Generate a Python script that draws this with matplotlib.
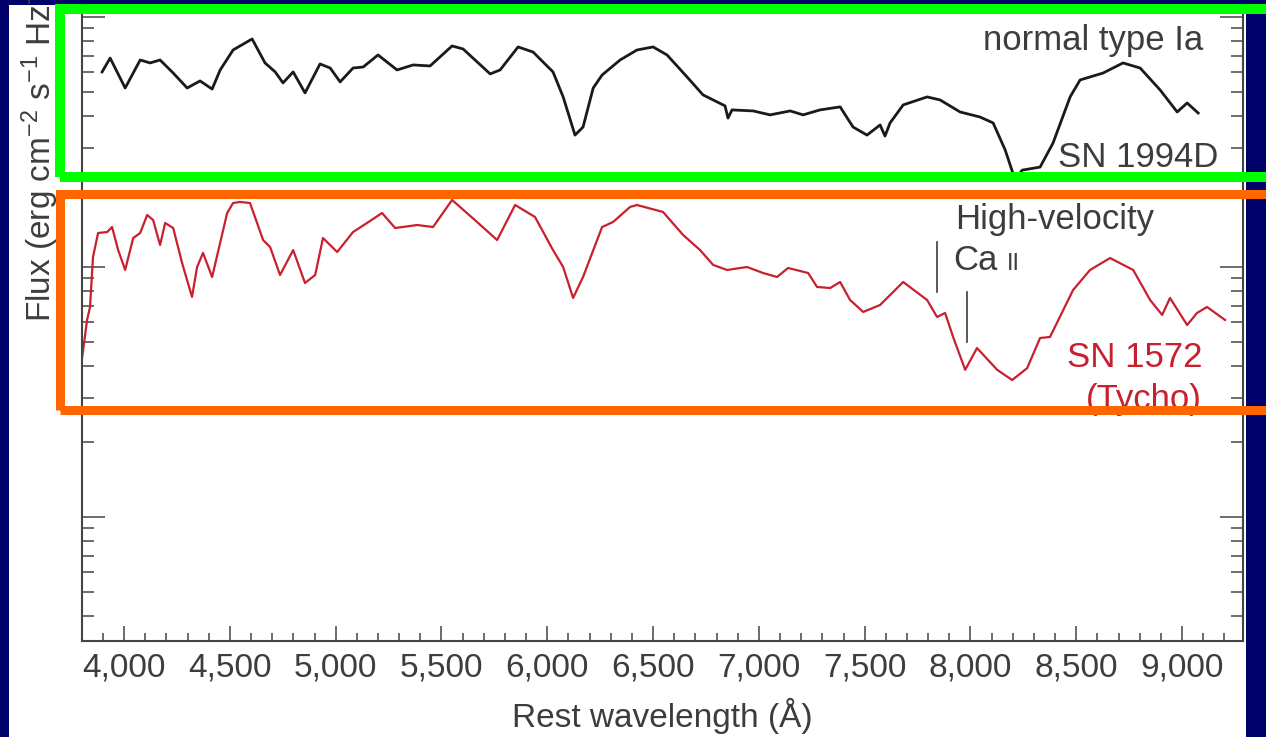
import matplotlib
matplotlib.use("Agg")
import matplotlib.pyplot as plt
from matplotlib.patches import Rectangle
from matplotlib.ticker import MultipleLocator, FuncFormatter, LogLocator, NullFormatter

plt.rcParams['font.family'] = ['Liberation Sans', 'DejaVu Sans']
plt.rcParams['mathtext.fontset'] = 'custom'
plt.rcParams['mathtext.rm'] = 'Liberation Sans'
plt.rcParams['mathtext.it'] = 'Liberation Sans:italic'
plt.rcParams['mathtext.bf'] = 'Liberation Sans:bold'
plt.rcParams['mathtext.default'] = 'rm'

# ---------------- data ----------------
# SN 1994D (normal type Ia), rest wavelength (Angstrom) and flux (arbitrary, log axis)
wave_1994d = [3896, 3934, 4005, 4076, 4123, 4170, 4232, 4298, 4359, 4416, 4454, 4515,
              4605, 4666, 4714, 4751, 4799, 4855, 4926, 4974, 5021, 5082, 5130, 5200,
              5290, 5366, 5446, 5550, 5602, 5730, 5777, 5862, 5933, 6027, 6075, 6131,
              6169, 6217, 6259, 6344, 6424, 6500, 6566, 6661, 6736, 6840, 6854, 6873,
              6973, 7053, 7148, 7209, 7289, 7384, 7445, 7511, 7573, 7596, 7620, 7682,
              7795, 7856, 7951, 8045, 8107, 8164, 8211, 8244, 8329, 8390, 8471, 8518,
              8627, 8721, 8802, 8896, 8977, 9024, 9076]
flux_1994d = [6.03, 6.85, 5.20, 6.73, 6.55, 6.73, 5.97, 5.20, 5.55, 5.15, 6.14, 7.38,
              8.17, 6.55, 6.03, 5.45, 6.03, 4.97, 6.49, 6.25, 5.50, 6.25, 6.31, 7.05,
              6.14, 6.43, 6.37, 7.66, 7.45, 5.92, 6.14, 7.59, 7.24, 6.03, 4.79, 3.37,
              3.63, 5.20, 5.86, 6.73, 7.38, 7.59, 7.05, 5.75, 4.88, 4.41, 3.94, 4.25,
              4.21, 4.06, 4.21, 4.06, 4.25, 4.37, 3.63, 3.37, 3.70, 3.34, 3.77, 4.45,
              4.79, 4.66, 4.17, 3.98, 3.77, 2.94, 2.23, 2.44, 2.51, 3.13, 4.79, 5.60,
              5.97, 6.55, 6.25, 5.11, 4.17, 4.53, 4.13]

# SN 1572 (Tycho)
wave_tycho = [3802, 3825, 3839, 3853, 3877, 3920, 3943, 3972, 4005, 4043, 4076, 4109,
              4137, 4170, 4194, 4232, 4274, 4321, 4345, 4373, 4416, 4487, 4515, 4548,
              4595, 4657, 4690, 4737, 4799, 4855, 4903, 4940, 5007, 5082, 5148, 5219,
              5281, 5385, 5460, 5550, 5668, 5763, 5848, 5942, 6027, 6075, 6122, 6169,
              6259, 6311, 6391, 6424, 6547, 6642, 6722, 6784, 6850, 6944, 7020, 7086,
              7138, 7233, 7275, 7337, 7384, 7431, 7493, 7573, 7682, 7795, 7842, 7880,
              7918, 7975, 8031, 8126, 8197, 8268, 8329, 8376, 8485, 8565, 8660, 8769,
              8849, 8906, 8943, 9024, 9071, 9118, 9203]
flux_tycho = [0.436, 0.614, 0.692, 1.096, 1.368, 1.380, 1.445, 1.169, 0.973, 1.306, 1.368, 1.614,
              1.542, 1.225, 1.500, 1.432, 1.038, 0.759, 1.000, 1.138, 0.912, 1.644, 1.803, 1.820,
              1.803, 1.282, 1.202, 0.929, 1.169, 0.863, 0.929, 1.306, 1.148, 1.380, 1.500, 1.644,
              1.432, 1.472, 1.445, 1.854, 1.514, 1.282, 1.770, 1.585, 1.169, 1.000, 0.752, 0.912,
              1.445, 1.514, 1.738, 1.770, 1.660, 1.343, 1.169, 1.019, 0.973, 1.000, 0.946, 0.912,
              0.991, 0.946, 0.832, 0.824, 0.871, 0.738, 0.661, 0.705, 0.871, 0.738, 0.631, 0.655,
              0.525, 0.388, 0.474, 0.388, 0.353, 0.394, 0.520, 0.525, 0.809, 0.973, 1.086, 0.973,
              0.738, 0.643, 0.752, 0.586, 0.655, 0.692, 0.614]

# High-velocity Ca II marker segments: wavelength, flux bottom, flux top
ca_marker_wave = [7842, 7984]
ca_marker_lo = [0.794, 0.501]
ca_marker_hi = [1.259, 0.794]

x_ticks = [4000, 4500, 5000, 5500, 6000, 6500, 7000, 7500, 8000, 8500, 9000]
x_limits = (3801, 9288)
y_limits = (10 ** -1.496, 10 ** 1.048)

# ---------------- figure ----------------
W, H = 1266, 737
NAVY = '#00006a'
GREY = '#3d3d3d'
RED = '#c8202e'

fig = plt.figure(figsize=(W / 100, H / 100), dpi=100, facecolor=NAVY)

# white page area
fig.add_artist(Rectangle((9 / W, 0), (1246 - 9) / W, (H - 5) / H,
                         transform=fig.transFigure, facecolor='white',
                         edgecolor='none', zorder=-10))

ax_l, ax_r, ax_t, ax_b = 82, 1243, 5, 641
ax = fig.add_axes([ax_l / W, (H - ax_b) / H, (ax_r - ax_l) / W, (ax_b - ax_t) / H])
ax.set_facecolor('none')

ax.plot(wave_1994d, flux_1994d, color='#1a1a1a', lw=2.0, solid_joinstyle='round')
ax.plot(wave_tycho, flux_tycho, color=RED, lw=1.6, solid_joinstyle='round')

for w, lo, hi in zip(ca_marker_wave, ca_marker_lo, ca_marker_hi):
    ax.plot([w, w], [lo, hi], color=GREY, lw=1.2)

ax.set_yscale('log')
ax.set_xlim(*x_limits)
ax.set_ylim(*y_limits)

ax.xaxis.set_major_locator(plt.FixedLocator(x_ticks))
ax.xaxis.set_minor_locator(MultipleLocator(100))
ax.xaxis.set_major_formatter(FuncFormatter(lambda v, _: f"{int(v):,}"))
ax.yaxis.set_major_locator(LogLocator(base=10, numticks=10))
ax.yaxis.set_minor_locator(LogLocator(base=10, subs=range(2, 10), numticks=20))
ax.yaxis.set_major_formatter(NullFormatter())
ax.yaxis.set_minor_formatter(NullFormatter())

for s in ['left', 'right', 'bottom']:
    ax.spines[s].set_color('#444444')
    ax.spines[s].set_linewidth(1.5)
ax.spines['top'].set_visible(False)

ax.tick_params(axis='x', which='both', direction='in', top=False, bottom=True,
               color='#444444', width=1.1, labelsize=24, labelcolor=GREY, pad=8)
ax.tick_params(axis='x', which='major', length=11)
ax.tick_params(axis='x', which='minor', length=5.5)
ax.tick_params(axis='y', which='both', direction='in', left=True, right=True,
               color='#444444', width=1.1)
ax.tick_params(axis='y', which='major', length=16.5)
ax.tick_params(axis='y', which='minor', length=8.5)

# axis labels
fig.text((ax_l + ax_r) / 2 / W, 10 / H, 'Rest wavelength (Å)', ha='center', va='baseline',
         fontsize=24, color=GREY)
fig.text(40 / W, (H - 322) / H, 'Flux (erg cm$^{-2}$ s$^{-1}$ Hz$^{-1}$)', rotation=90,
         ha='center', va='bottom', fontsize=24, color=GREY)

# annotations
ax.text(9099, 8.09, 'normal type Ia', ha='right', va='center', fontsize=25, color=GREY)
ax.text(9170, 2.754, 'SN 1994D', ha='right', va='center', fontsize=25, color=GREY)
ax.text(7927, 1.419, 'High-velocity', ha='left', va='baseline', fontsize=25, color=GREY)
ax.text(7918, 0.973, 'Ca', ha='left', va='baseline', fontsize=25, color=GREY)
ax.text(8173, 0.973, 'II', ha='left', va='baseline', fontsize=17, color=GREY)
ax.text(9095, 0.433, 'SN 1572', ha='right', va='center', fontsize=25, color=RED)
ax.text(9095, 0.294, '(Tycho)', ha='right', va='center', fontsize=25, color=RED)

# highlight boxes
def px_rect(x0, y0, x1, y1, color, lw_px):
    fig.add_artist(Rectangle((x0 / W, (H - y1) / H), (x1 - x0) / W, (y1 - y0) / H,
                             transform=fig.transFigure, fill=False, edgecolor=color,
                             linewidth=lw_px * 0.72, zorder=20, clip_on=False))

px_rect(59.5, 9, 1290, 177, '#00ff00', 10)
px_rect(59.5, 194, 1290, 410, '#ff6600', 9)

fig.savefig('out.png', dpi=100, facecolor=NAVY)
